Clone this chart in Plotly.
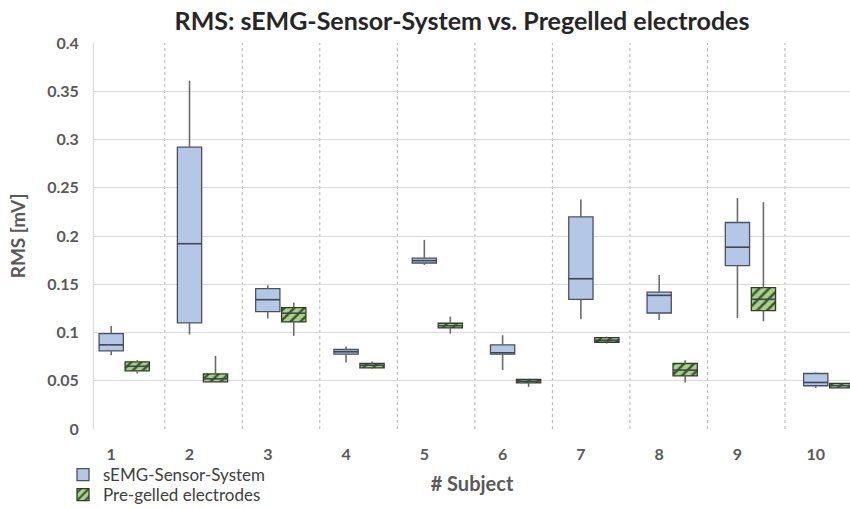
import plotly.graph_objects as go

subjects = [1, 2, 3, 4, 5, 6, 7, 8, 9, 10]
tick_labels = ["1", "2", "3", "4", "5", "6", "7", "8", "9", "10"]

# sEMG-Sensor-System
semg_low = [0.0765, 0.098, 0.1144, 0.0689, 0.170, 0.061, 0.1137, 0.113, 0.115, 0.0424]
semg_q1 = [0.081, 0.110, 0.1217, 0.0775, 0.172, 0.0775, 0.1344, 0.1202, 0.1692, 0.0448]
semg_med = [0.0872, 0.192, 0.134, 0.080, 0.1745, 0.079, 0.1557, 0.1385, 0.1884, 0.0482]
semg_q3 = [0.0989, 0.292, 0.1454, 0.0824, 0.177, 0.0872, 0.2198, 0.1419, 0.214, 0.0575]
semg_high = [0.1068, 0.361, 0.149, 0.0855, 0.196, 0.0972, 0.2377, 0.1595, 0.2394, 0.0586]

# Pre-gelled electrodes
gel_low = [0.0575, 0.0485, 0.0965, 0.0625, 0.0989, 0.0437, 0.0886, 0.0482, 0.1116, 0.0425]
gel_q1 = [0.0603, 0.0489, 0.111, 0.0634, 0.1047, 0.0479, 0.0899, 0.0551, 0.1227, 0.0427]
gel_med = [0.065, 0.052, 0.120, 0.066, 0.107, 0.0495, 0.092, 0.061, 0.1344, 0.045]
gel_q3 = [0.0696, 0.0572, 0.1258, 0.0679, 0.1096, 0.0514, 0.0947, 0.0679, 0.1464, 0.0472]
gel_high = [0.0713, 0.0758, 0.131, 0.070, 0.1165, 0.052, 0.0955, 0.0713, 0.235, 0.0475]

y_ticks = ["0", "0.05", "0.1", "0.15", "0.2", "0.25", "0.3", "0.35", "0.4"]

BOX_W = 0.31
GEL_OFFSET = 0.332
seps = [1.684 + 0.9904 * j for j in range(9)]

fig = go.Figure()


def add_series(xs, low, q1, med, q3, high, name, marker, legend):
    wx, wy = [], []
    for x, lo, a, b, hi in zip(xs, low, q1, q3, high):
        wx += [x, x, None, x, x, None]
        wy += [lo, a, None, b, hi, None]
    fig.add_trace(go.Scatter(x=wx, y=wy, mode="lines", showlegend=False,
                             line=dict(color="#6b6b6b", width=1.6), hoverinfo="skip"))
    fig.add_trace(go.Bar(x=xs, y=[b - a for a, b in zip(q1, q3)], base=q1,
                         width=BOX_W, name=name, marker=marker, legend=legend))
    mx, my = [], []
    for x, m in zip(xs, med):
        mx += [x - BOX_W / 2, x + BOX_W / 2, None]
        my += [m, m, None]
    fig.add_trace(go.Scatter(x=mx, y=my, mode="lines", showlegend=False,
                             line=dict(color="#3f4756", width=1.6), hoverinfo="skip"))


add_series(subjects, semg_low, semg_q1, semg_med, semg_q3, semg_high,
           "sEMG-Sensor-System",
           dict(color="#b4c7e7", line=dict(color="#4a5160", width=1.3)), "legend")
add_series([s + GEL_OFFSET for s in subjects], gel_low, gel_q1, gel_med, gel_q3, gel_high,
           "Pre-gelled electrodes",
           dict(color="#a9d18e", line=dict(color="#2f3f25", width=1.3),
                pattern=dict(shape="/", fgcolor="#385723", bgcolor="#a9d18e",
                             size=7, solidity=0.35, fillmode="replace")), "legend2")

for s in seps:
    fig.add_shape(type="line", xref="x", yref="y", x0=s, x1=s, y0=0, y1=0.4,
                  line=dict(color="#b0b0b0", width=1, dash="dot"), layer="below")

font_family = "Lato, 'Open Sans', sans-serif"
legend_common = dict(x=-0.041, xanchor="left", yanchor="middle",
                     font=dict(size=17, color="#404040"), bgcolor="rgba(0,0,0,0)",
                     itemwidth=30)
fig.update_layout(
    width=850, height=508,
    margin=dict(l=94, r=0, t=43, b=79, autoexpand=False),
    plot_bgcolor="white", paper_bgcolor="white",
    barmode="overlay",
    font=dict(family=font_family, color="#595959"),
    title=dict(text="<b>RMS: sEMG-Sensor-System vs. Pregelled electrodes</b>",
               font=dict(size=25, color="#262626", family=font_family),
               x=462 / 850, xref="container", xanchor="center",
               y=1 - 21 / 508, yref="container", yanchor="middle"),
    xaxis=dict(range=[0.78, 10.438], tickmode="array", tickvals=subjects,
               ticktext=["<b>%s</b>" % t for t in tick_labels],
               tickfont=dict(size=16, color="#595959"),
               showgrid=False, zeroline=False, showline=False, ticks="",
               ticklabelstandoff=14,
               title=dict(text="<b># Subject</b>", font=dict(size=20, color="#595959"),
                          standoff=14)),
    yaxis=dict(range=[0, 0.4], tickmode="array",
               tickvals=[float(v) for v in y_ticks],
               ticktext=["<b>%s</b>" % v for v in y_ticks],
               tickfont=dict(size=16, color="#595959"),
               showgrid=True, gridcolor="#d9d9d9", gridwidth=1,
               zeroline=False, showline=True, linecolor="#d9d9d9", ticks="",
               ticklabelstandoff=11,
               title=dict(text="<b>RMS [mV]</b>", font=dict(size=19, color="#595959"),
                          standoff=16)),
    legend=dict(y=(429 - 475) / 386, **legend_common),
    legend2=dict(y=(429 - 495) / 386, **legend_common),
    showlegend=True,
)

fig.write_html("out.html", config={"displayModeBar": False},
               post_script="document.body.style.margin='0';document.body.style.overflow='hidden';")
